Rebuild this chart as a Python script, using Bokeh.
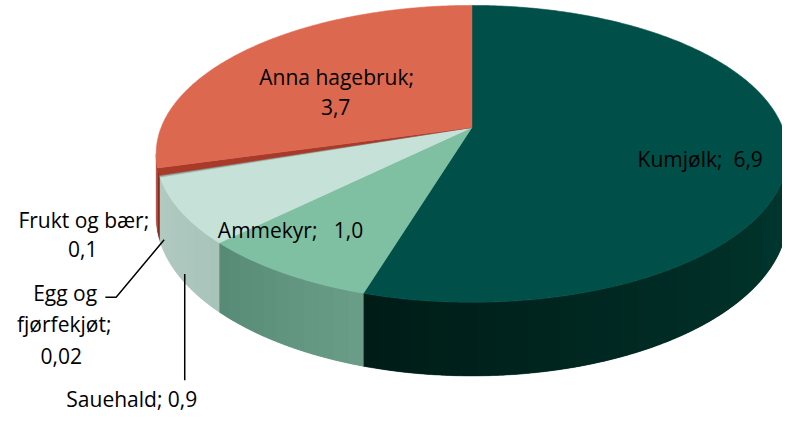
import math
from bokeh.plotting import figure
from bokeh.models import Range1d
from bokeh.core.properties import value
from bokeh.embed import file_html
from bokeh.resources import INLINE

labels = ["Kumjølk", "Ammekyr", "Sauehald", "Egg og fjørfekjøt", "Frukt og bær", "Anna hagebruk"]
values = [6.9, 1.0, 0.9, 0.02, 0.1, 3.7]
top_colors = ["#00504A", "#7FBFA2", "#C6E2D8", "#8FB0A6", "#A83A2A", "#DD6850"]
side_left = ["#003A31", "#6A9E88", "#A8C4BA", "#8FB0A6", "#8A2A1E", "#B55040"]
side_right = ["#001C17", "#578A74", "#B2CAC2", "#8FB0A6", "#8A2A1E", "#B55040"]

NB = "\u00a0"
label_lines = [
    ["Kumjølk;" + NB + " 6,9"],
    ["Ammekyr;" + NB + NB + " 1,0"],
    ["Sauehald; 0,9"],
    ["Egg og", "fjørfekjøt;", "0,02"],
    ["Frukt og bær;", "0,1"],
    ["Anna hagebruk;", "3,7"],
]

# projection geometry (in reference pixel units)
CX, CY = 481.0, 138.0
A, B, K = 317.0, 147.2, 0.178
D = 62.0


def proj(theta, depth=0.0):
    u = math.sin(theta)
    v = -math.cos(theta)
    w = 1.0 - K * v
    return CX + A * u / w, CY + B * v / w + depth / w


def hexmix(c1, c2, t):
    a = [int(c1[i:i + 2], 16) for i in (1, 3, 5)]
    b = [int(c2[i:i + 2], 16) for i in (1, 3, 5)]
    m = [round(a[j] + (b[j] - a[j]) * t) for j in range(3)]
    return "#%02x%02x%02x" % tuple(m)


p = figure(width=782, height=414, output_backend="svg", toolbar_location=None,
           x_range=Range1d(0, 798), y_range=Range1d(432, 8), min_border=0)
p.axis.visible = False
p.grid.visible = False
p.outline_line_color = None
p.background_fill_color = "white"

total = sum(values)
angles = []
acc = 0.0
for val in values:
    a0 = acc / total * 2 * math.pi
    acc += val
    a1 = acc / total * 2 * math.pi
    angles.append((a0, a1))

vis0 = math.pi - math.acos(K)
vis1 = math.pi + math.acos(K)

bx, by, bc = [], [], []
xs_side, ys_side, cs_side = [], [], []
for i, (a0, a1) in enumerate(angles):
    s0, s1 = max(a0, vis0), min(a1, vis1)
    if s1 <= s0:
        continue
    n = max(2, int((s1 - s0) / math.radians(0.5)))
    ts = [s0 + (s1 - s0) * j / n for j in range(n + 1)]
    top = [proj(t) for t in ts]
    bot = [proj(t, D) for t in reversed(ts)]
    bx.append([q[0] for q in top + bot])
    by.append([q[1] for q in top + bot])
    bc.append(hexmix(side_right[i], side_left[i], 0.5))
    m = max(1, int((s1 - s0) / math.radians(2.5)))
    for j in range(m):
        t0 = s0 + (s1 - s0) * j / m
        t1 = s0 + (s1 - s0) * (j + 1) / m
        sub = [t0 + (t1 - t0) * q / 6 for q in range(7)]
        tp = [proj(t) for t in sub]
        bt = [proj(t, D) for t in reversed(sub)]
        xs_side.append([q[0] for q in tp + bt])
        ys_side.append([q[1] for q in tp + bt])
        frac = 1.0 - ((t0 + t1) / 2 - s0) / (s1 - s0)
        cs_side.append(hexmix(side_right[i], side_left[i], frac))
p.patches(bx, by, fill_color=bc, line_color=bc, line_width=0.5)
p.patches(xs_side, ys_side, fill_color=cs_side, line_color=None)

# top faces
xs_top, ys_top = [], []
for i, (a0, a1) in enumerate(angles):
    n = max(2, int((a1 - a0) / math.radians(0.5)))
    px, py = [CX], [CY]
    for j in range(n + 1):
        x, y = proj(a0 + (a1 - a0) * j / n)
        px.append(x)
        py.append(y)
    xs_top.append(px)
    ys_top.append(py)
p.patches(xs_top, ys_top, fill_color=top_colors, line_color=top_colors, line_width=0.6)

# leader lines
p.line([107, 118, 167], [312, 312, 253], line_color="black", line_width=1.5)
p.line([188, 188], [288, 397], line_color="black", line_width=1.5)

# labels (centres)
lx, ly, lt = [], [], []
pos = [
    [(714, 170)],
    [(296, 243)],
    [(134, 416)],
    [(66, 308), (65, 339), (62, 372)],
    [(85, 233), (84, 263)],
    [(343, 86), (342, 117)],
]
for lines, pts in zip(label_lines, pos):
    for t, (x, y) in zip(lines, pts):
        lx.append(x)
        ly.append(y)
        lt.append(t)
p.text(lx, ly, text=lt, text_align="center", text_baseline="middle",
       text_font=value("Open Sans"), text_font_size="21px", text_color="black")

open("out.html", "w").write(file_html(p, INLINE))
